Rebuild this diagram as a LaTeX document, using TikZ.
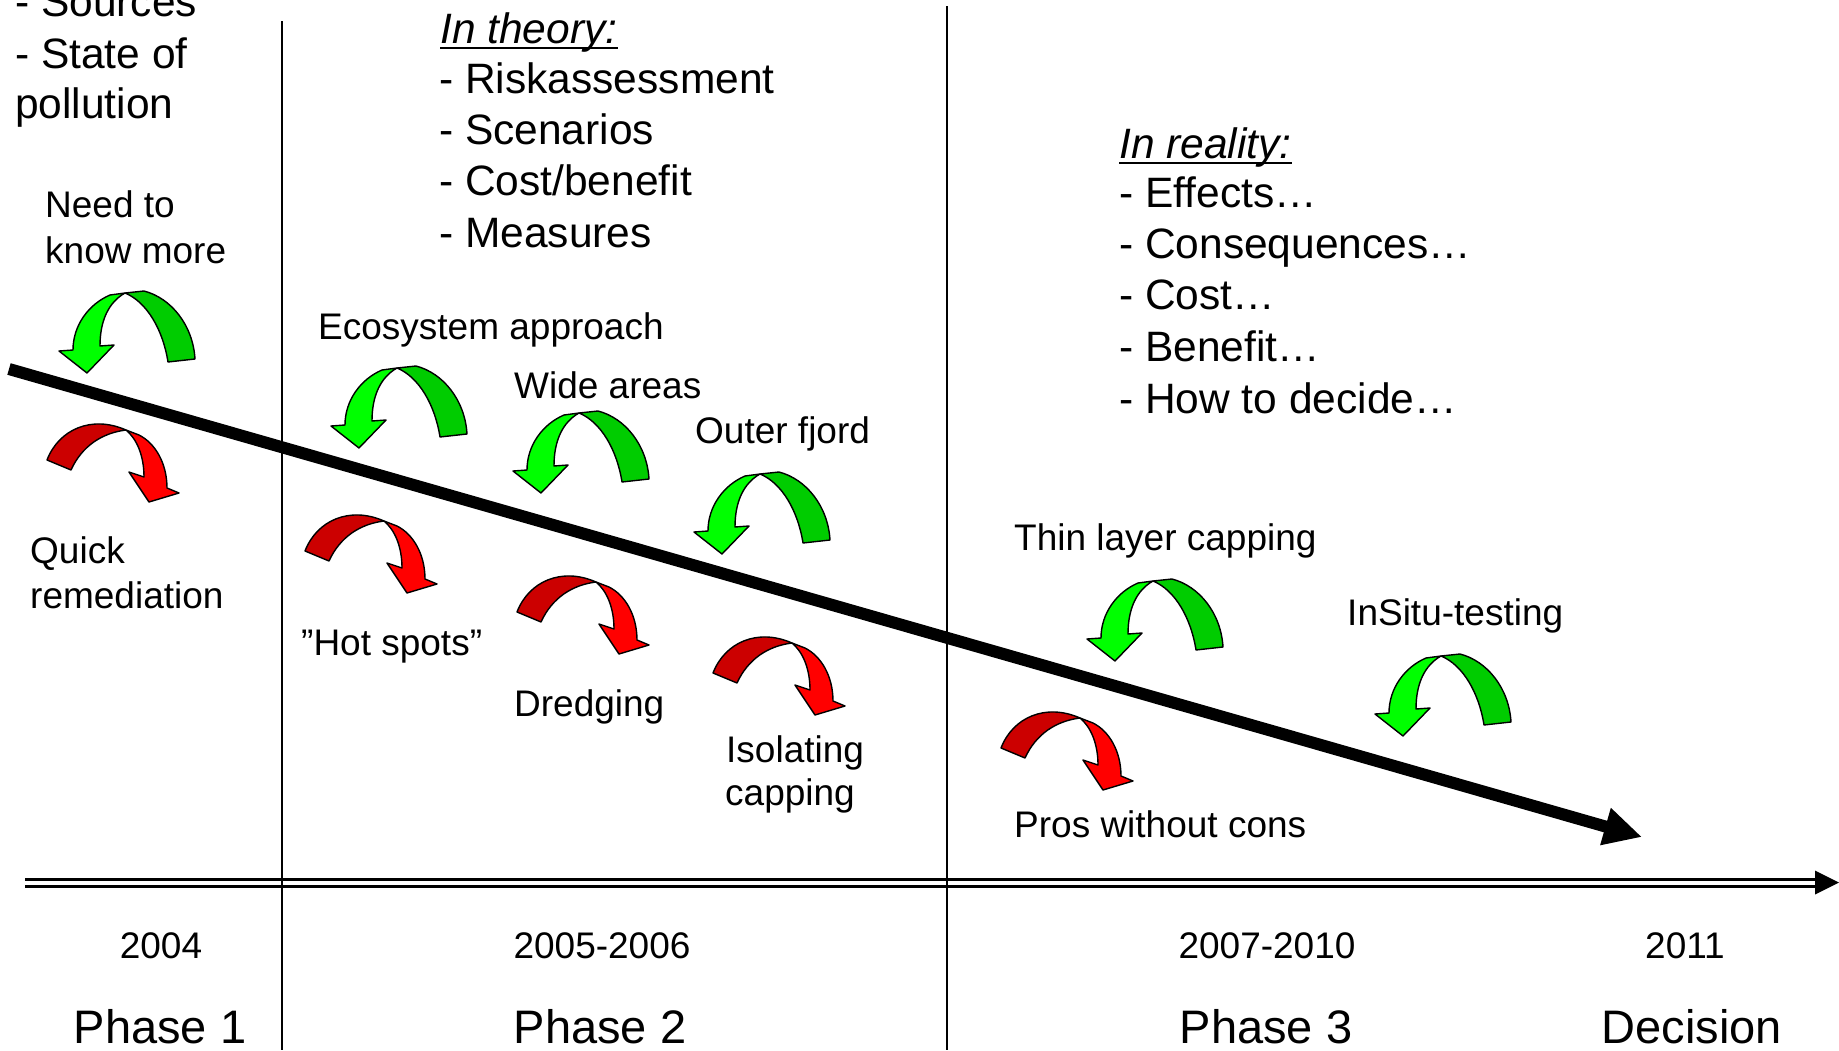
\documentclass[tikz,border=0pt]{standalone}
\usepackage{fontspec}
\setmainfont{Liberation Sans}
\usetikzlibrary{arrows.meta}
\definecolor{glight}{HTML}{00FF00}
\definecolor{gdark}{HTML}{00CC00}
\definecolor{rlight}{HTML}{FF0000}
\definecolor{rdark}{HTML}{CC0000}
\tikzset{
  lbl/.style={inner sep=0pt, anchor=base west, font=\fontsize{37}{44}\selectfont},
  lst/.style={inner sep=0pt, anchor=base west, font=\fontsize{42.5}{51}\selectfont},
  yr/.style={inner sep=0pt, anchor=base, font=\fontsize{37}{44}\selectfont},
  ph/.style={inner sep=0pt, anchor=base, font=\fontsize{47}{56}\selectfont},
  ribbon/.style={draw=black, line width=1.4pt, line join=round},
  divider/.style={draw=black, line width=2pt},
}
\newcommand{\greenarc}[2]{%
  \begin{scope}[shift={(#1,#2)}]
    \filldraw[ribbon, fill=gdark] (66,3) -- (85,1) .. controls (112,8) and (134,35) .. (136,69)
      -- (109,72) .. controls (104,40) and (88,12) .. (66,3) -- cycle;
    \filldraw[ribbon, fill=glight] (66,3) -- (51,5) .. controls (30,14) and (14,35) .. (14,60)
      -- (0,61) -- (28,83) -- (55,55) -- (41,56) .. controls (41,30) and (50,12) .. (66,3) -- cycle;
  \end{scope}}
\newcommand{\redarc}[2]{%
  \begin{scope}[shift={(#1,#2)}]
    \filldraw[ribbon, fill=rdark] (0,39) .. controls (12,8) and (45,-6) .. (79,9)
      .. controls (55,12) and (35,25) .. (24,49) -- cycle;
    \filldraw[ribbon, fill=rlight] (79,9) -- (92,14) .. controls (108,22) and (120,42) .. (120,67)
      -- (132,72) -- (102,81) -- (82,51) -- (97,56) .. controls (97,35) and (90,18) .. (79,9) -- cycle;
  \end{scope}}
\begin{document}
\begin{tikzpicture}[x=1pt,y=-1pt]
\useasboundingbox[fill=white] (0,0) rectangle (1839,1050);

% dividers
\coordinate (v1t) at (282,21);  \coordinate (v1b) at (282,1050);
\coordinate (v2t) at (947,6);   \coordinate (v2b) at (947,1050);
\draw[divider] (v1t) -- (v1b);
\draw[divider] (v2t) -- (v2b);

% timeline (double line with head)
\coordinate (tlA) at (25,879.5);  \coordinate (tlB) at (1816,879.5);
\coordinate (tlC) at (25,886);    \coordinate (tlD) at (1816,886);
\coordinate (tlTip) at (1839,882.5);
\draw[line width=2.5pt] (tlA) -- (tlB);
\draw[line width=3pt] (tlC) -- (tlD);
\fill (tlTip) -- ++(-24,-12) -- ++(0,24) -- cycle;

% main trend arrow
\coordinate (trS) at (9,369);
\coordinate (trE) at (1642,837);
\draw[line width=12pt, -{Triangle[length=38pt,width=36pt]}] (trS) -- (trE);

% curved arrows
\greenarc{59}{290}
\greenarc{331}{365}
\greenarc{513}{410}
\greenarc{694}{471}
\greenarc{1087}{578}
\greenarc{1375}{653}
\redarc{47}{421}
\redarc{305}{512}
\redarc{517}{573}
\redarc{713}{634}
\redarc{1001}{709}

% top-left list
\node[lst] (s1) at (15,16) {- Sources};
\node[lst] (s2) at (15,68) {- State of};
\node[lst] (s3) at (15,118) {pollution};

% in theory
\node[lst] (th) at (440,43) {\itshape In theory:};
\draw[line width=2.8pt] ([yshift=-5pt]th.base west) -- ([yshift=-5pt]th.base east);
\node[lst] (th1) at (439,93) {- Riskassessment};
\node[lst] (th2) at (439,144) {- Scenarios};
\node[lst] (th3) at (439,195) {- Cost/benefit};
\node[lst] (th4) at (439,247) {- Measures};

% in reality
\node[lst] (re) at (1119,158) {\itshape In reality:};
\draw[line width=2.8pt] ([yshift=-5pt]re.base west) -- ([yshift=-5pt]re.base east);
\node[lst] (re1) at (1119,207) {- Effects…};
\node[lst] (re2) at (1119,258) {- Consequences…};
\node[lst] (re3) at (1119,309) {- Cost…};
\node[lst] (re4) at (1119,361) {- Benefit…};
\node[lst] (re5) at (1119,413) {- How to decide…};

% labels
\node[lbl] (n1) at (45,217) {Need to};
\node[lbl] (n2) at (45,263) {know more};
\node[lbl] (q1) at (30,563) {Quick};
\node[lbl] (q2) at (30,608) {remediation};
\node[lbl] (eco) at (318,339) {Ecosystem approach};
\node[lbl] (wide) at (514,398) {Wide areas};
\node[lbl] (outer) at (695,443) {Outer fjord};
\node[lbl] (hot) at (301,655) {”Hot spots”};
\node[lbl] (dre) at (514,716) {Dredging};
\node[lbl] (iso1) at (726,762) {Isolating};
\node[lbl] (iso2) at (725,805) {capping};
\node[lbl] (thin) at (1014,550) {Thin layer capping};
\node[lbl] (insitu) at (1347,625) {InSitu-testing};
\node[lbl] (pros) at (1014,837) {Pros without cons};

% years and phases
\node[yr] (y1) at (161,958) {2004};
\node[yr] (y2) at (602,958) {2005-2006};
\node[yr] (y3) at (1267,958) {2007-2010};
\node[yr] (y4) at (1685,958) {2011};
\node[ph] (p1) at (160,1043) {Phase 1};
\node[ph] (p2) at (600,1043) {Phase 2};
\node[ph] (p3) at (1266,1043) {Phase 3};
\node[ph] (p4) at (1692,1043) {Decision};
\end{tikzpicture}
\end{document}
